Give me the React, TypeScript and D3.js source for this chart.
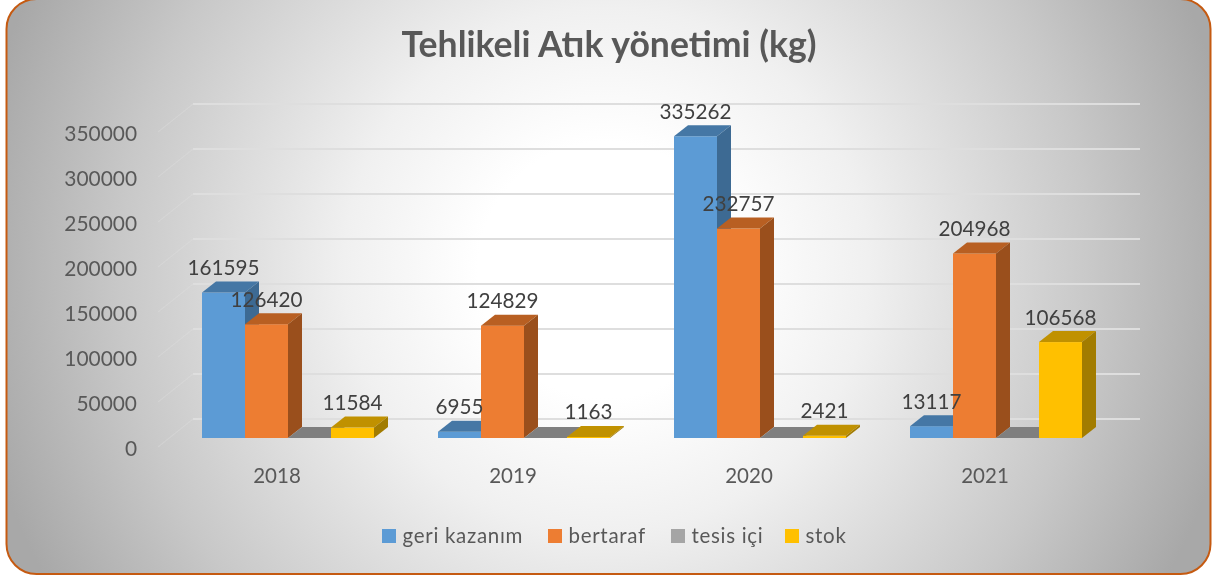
import React, { useEffect, useRef } from 'react';
import * as d3 from 'd3';

const title = 'Tehlikeli Atık yönetimi (kg)';
const years = ['2018', '2019', '2020', '2021'];
const seriesNames = ['geri kazanım', 'bertaraf', 'tesis içi', 'stok'];
const geriKazanim = [161595, 6955, 335262, 13117];
const bertaraf = [126420, 124829, 232757, 204968];
const tesisIci = [0, 0, 0, 0];
const stok = [11584, 1163, 2421, 106568];
const seriesValues = [geriKazanim, bertaraf, tesisIci, stok];
const yTicks = [0, 50000, 100000, 150000, 200000, 250000, 300000, 350000];

const frontColors = ['#5b9bd5', '#ed7d31', '#a5a5a5', '#ffc000'];
const topColors = ['#4577a5', '#b85f20', '#7f7f7f', '#c09100'];
const sideColors = ['#3c6a93', '#9a4f1a', '#6e6e6e', '#a27b00'];
const legendSwatchX = [382, 548, 671, 785];

const FONT = 'Lato, "Open Sans", sans-serif';

const App = () => {
  const ref = useRef<SVGSVGElement>(null);

  useEffect(() => {
    const svg = d3.select(ref.current);
    svg.selectAll('*').remove();

    const defs = svg.append('defs');
    const grad = defs.append('radialGradient')
      .attr('id', 'bg')
      .attr('gradientUnits', 'userSpaceOnUse')
      .attr('cx', 606).attr('cy', 270).attr('r', 640);
    [[0.2, '#ffffff'], [0.41, '#f0f0f0'], [0.76, '#c8c8c8'], [1, '#a8a8a8']].forEach(([o, c]) => {
      grad.append('stop').attr('offset', o as number).attr('stop-color', c as string);
    });
    defs.append('filter').attr('id', 'soft')
      .append('feGaussianBlur').attr('stdDeviation', 0.45);

    // card background
    svg.append('rect')
      .attr('x', 6.5).attr('y', -1)
      .attr('width', 1204).attr('height', 575)
      .attr('rx', 30).attr('ry', 30)
      .attr('fill', 'url(#bg)')
      .attr('stroke', '#c55a11')
      .attr('stroke-width', 2);

    const chart = svg.append('g').attr('filter', 'url(#soft)');

    // front plane of the 3D plot
    const y = d3.scaleLinear().domain([0, 350000]).range([438, 123]);
    const x0 = d3.scaleBand().domain(years).range([170, 1114]);
    const x1 = d3.scaleBand().domain(seriesNames).range([32, 204]);
    const depthX = 14;
    const depthY = 11;

    // walls: gridlines sit further back than the bars
    const wall = chart.append('g');
    wall.selectAll('.grid')
      .data(yTicks)
      .enter().append('line')
      .attr('x1', 193).attr('x2', 1140)
      .attr('y1', d => y(d) - 19).attr('y2', d => y(d) - 19)
      .attr('stroke', '#dedede')
      .attr('stroke-width', 2);
    wall.selectAll('.diag')
      .data(yTicks)
      .enter().append('line')
      .attr('x1', 158).attr('x2', 193)
      .attr('y1', d => y(d) + 9).attr('y2', d => y(d) - 19)
      .attr('stroke', '#e0e0e0')
      .attr('stroke-opacity', 0.35)
      .attr('stroke-width', 1.2);

    // y axis labels
    const yAxis = chart.append('g')
      .attr('transform', 'translate(146,11)')
      .call(d3.axisLeft(y).tickValues(yTicks).tickSize(0).tickPadding(9).tickFormat(d3.format('d')));
    yAxis.select('.domain').remove();
    yAxis.selectAll('text')
      .attr('font-family', FONT).attr('font-size', 20.9).attr('fill', '#595959');

    // x axis labels
    const xAxis = chart.append('g')
      .attr('transform', 'translate(-11,468)')
      .call(d3.axisBottom(x0).tickSize(0).tickPadding(0));
    xAxis.select('.domain').remove();
    xAxis.selectAll('text')
      .attr('font-family', FONT).attr('font-size', 20.5).attr('fill', '#595959');

    // bars, back to front per group
    years.forEach((year, i) => {
      const g = chart.append('g').attr('transform', `translate(${x0(year)},0)`);
      seriesNames.forEach((name, s) => {
        const v = seriesValues[s][i];
        const left = x1(name) as number;
        const w = x1.bandwidth();
        const top = y(v);
        const base = y(0);
        if (v > 0) {
          g.append('rect')
            .attr('x', left).attr('y', top)
            .attr('width', w).attr('height', base - top)
            .attr('fill', frontColors[s]);
        }
        g.append('path')
          .attr('d', `M${left},${top}L${left + depthX},${top - depthY}L${left + w + depthX},${top - depthY}L${left + w},${top}Z`)
          .attr('fill', topColors[s]);
        g.append('path')
          .attr('d', `M${left + w},${top}L${left + w + depthX},${top - depthY}L${left + w + depthX},${base - depthY}L${left + w},${base}Z`)
          .attr('fill', sideColors[s]);
      });
    });

    // data labels go over every bar
    years.forEach((year, i) => {
      seriesNames.forEach((name, s) => {
        const v = seriesValues[s][i];
        if (v === 0) return;
        chart.append('text')
          .attr('x', (x0(year) as number) + (x1(name) as number) + x1.bandwidth() / 2)
          .attr('y', y(v) - 17.5)
          .attr('text-anchor', 'middle')
          .attr('font-family', FONT)
          .attr('font-size', 20.7)
          .attr('fill', '#404040')
          .text(v);
      });
    });

    chart.append('text')
      .attr('x', 609).attr('y', 57)
      .attr('text-anchor', 'middle')
      .attr('font-family', FONT)
      .attr('font-size', 35.6)
      .attr('font-weight', 700)
      .attr('fill', '#595959')
      .text(title);

    // legend
    const legend = chart.append('g');
    seriesNames.forEach((name, s) => {
      legend.append('rect')
        .attr('x', legendSwatchX[s]).attr('y', 529)
        .attr('width', 14).attr('height', 14)
        .attr('fill', frontColors[s]);
      legend.append('text')
        .attr('x', legendSwatchX[s] + 20.5).attr('y', 543)
        .attr('font-family', FONT)
        .attr('font-size', 20.5)
        .attr('letter-spacing', 0.7)
        .attr('fill', '#595959')
        .text(name);
    });
  }, []);

  return <svg ref={ref} width={1213} height={576} style={{ position: 'absolute', left: 0, top: 0 }} />;
};

export default App;
